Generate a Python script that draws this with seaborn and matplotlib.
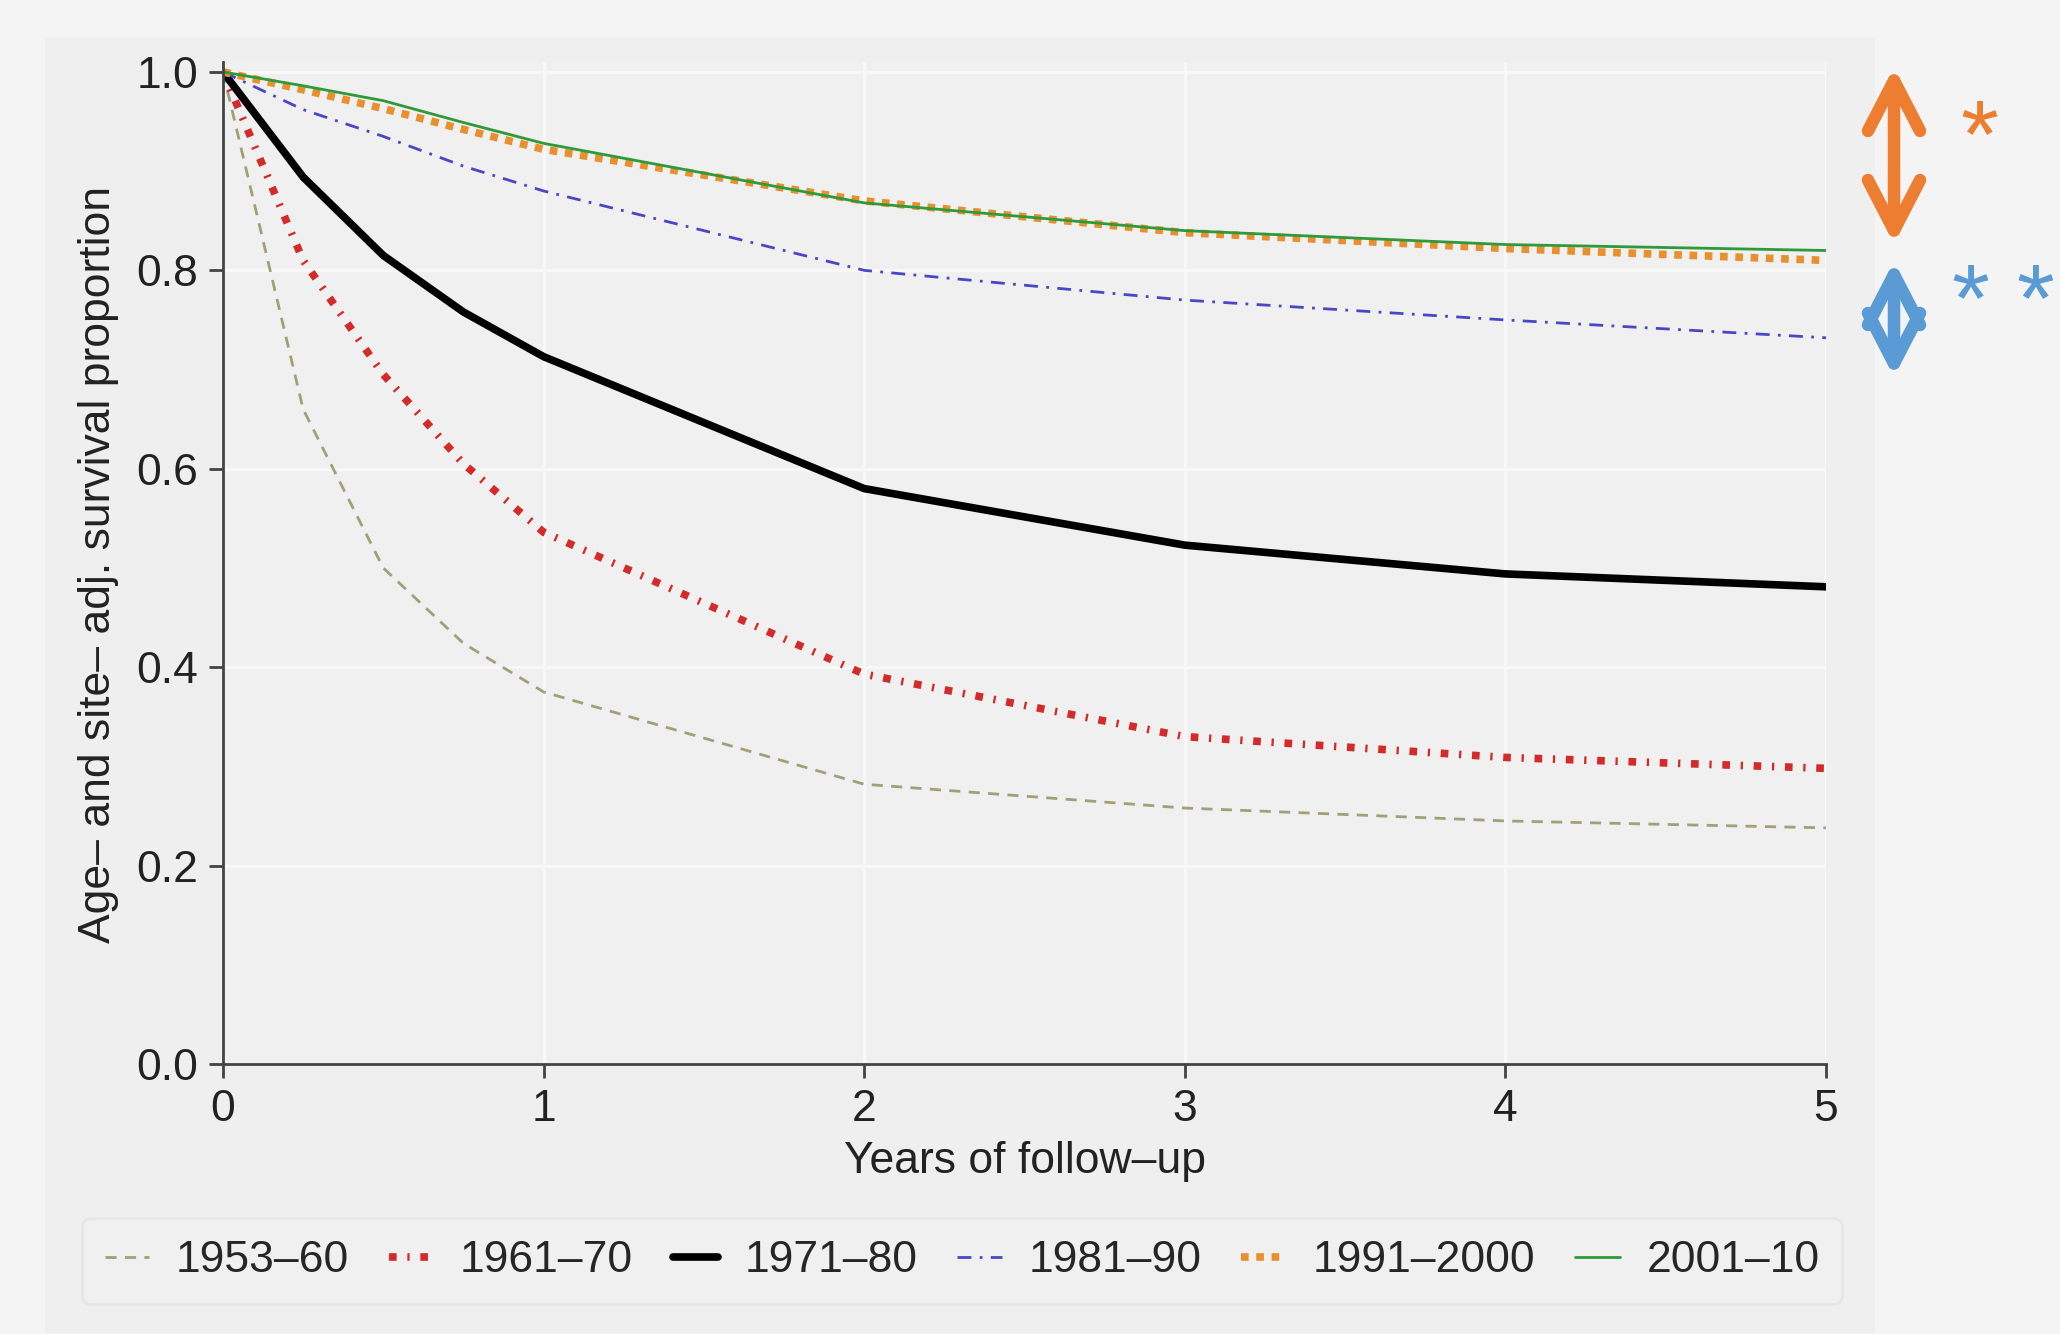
import numpy as np
import pandas as pd
import matplotlib
matplotlib.use("Agg")
import matplotlib.pyplot as plt
import seaborn as sns
from matplotlib.patches import FancyArrowPatch

# follow-up time points (years)
years = [0, 0.25, 0.5, 0.75, 1, 2, 3, 4, 5]

# survival proportions per period
s_1953_60 = [1.0, 0.66, 0.50, 0.424, 0.375, 0.282, 0.258, 0.245, 0.238]
s_1961_70 = [1.0, 0.81, 0.695, 0.605, 0.536, 0.393, 0.33, 0.309, 0.298]
s_1971_80 = [1.0, 0.894, 0.815, 0.758, 0.713, 0.58, 0.523, 0.494, 0.481]
s_1981_90 = [1.0, 0.962, 0.935, 0.905, 0.88, 0.80, 0.77, 0.75, 0.732]
s_1991_2000 = [1.0, 0.982, 0.963, 0.942, 0.922, 0.87, 0.838, 0.822, 0.81]
s_2001_10 = [1.0, 0.986, 0.971, 0.949, 0.928, 0.868, 0.84, 0.826, 0.82]

periods = ["1953–60", "1961–70", "1971–80", "1981–90", "1991–2000", "2001–10"]
series = [s_1953_60, s_1961_70, s_1971_80, s_1981_90, s_1991_2000, s_2001_10]

styles = {
    "1953–60": dict(color="#a39f78", lw=2.0, ls=(0, (4, 3))),
    "1961–70": dict(color="#d42a2a", lw=5.5, ls=(0, (1, 1.4, 0.3, 1.4))),
    "1971–80": dict(color="#000000", lw=5.5, ls="-"),
    "1981–90": dict(color="#4a47c4", lw=2.0, ls=(0, (5, 3, 1, 3))),
    "1991–2000": dict(color="#e8902e", lw=5.5, ls=(0, (1, 1))),
    "2001–10": dict(color="#2f9a3a", lw=2.0, ls="-"),
}

sns.set_style("white")
plt.rcParams["font.family"] = ["Liberation Sans", "DejaVu Sans"]

fig = plt.figure(figsize=(20.6, 13.34), dpi=100)
fig.patch.set_facecolor("#f4f4f4")

# slightly darker inner panel behind everything
panel = plt.Rectangle((45 / 2060, 0), (1875 - 45) / 2060, 1 - 38 / 1334,
                      transform=fig.transFigure, facecolor="#efefef",
                      edgecolor="none", zorder=-10)
fig.patches.append(panel)

ax = fig.add_axes([223 / 2060, 1 - 1064 / 1334, (1826 - 223) / 2060, (1064 - 62) / 1334])
ax.set_facecolor("#f0f0f0")
ax.set_zorder(1)

for name, vals in zip(periods, series):
    st = styles[name]
    df = pd.DataFrame({"year": years, "surv": vals})
    sns.lineplot(data=df, x="year", y="surv", ax=ax, color=st["color"],
                 linewidth=st["lw"], linestyle=st["ls"], label=name,
                 dash_capstyle="butt", legend=False)

ax.set_xlim(0, 5)
ax.set_ylim(0, 1.0 + 0.01)
ax.set_xticks([0, 1, 2, 3, 4, 5])
ax.set_yticks([0, 0.2, 0.4, 0.6, 0.8, 1.0])
ax.set_yticklabels(["0.0", "0.2", "0.4", "0.6", "0.8", "1.0"])
ax.set_xlabel("")
ax.set_ylabel("")
ax.grid(True, color="#f8f8f8", linewidth=2.5)
ax.set_axisbelow(True)
for side in ["top", "right"]:
    ax.spines[side].set_visible(False)
for side in ["left", "bottom"]:
    ax.spines[side].set_color("#444444")
    ax.spines[side].set_linewidth(2)
ax.tick_params(axis="both", direction="out", length=10, width=2, color="#444444",
               labelsize=32, labelcolor="#222222", pad=8, left=True, bottom=True)

fig.text(1025 / 2060, 1 - 1162 / 1334, "Years of follow–up", ha="center", va="center",
         fontsize=32, color="#222222")
fig.text(99 / 2060, 1 - 565 / 1334, "Age– and site– adj. survival proportion",
         ha="center", va="center", rotation=90, fontsize=32, color="#222222")

handles, labels = ax.get_legend_handles_labels()
leg = fig.legend(handles, labels, loc="center", bbox_to_anchor=(962 / 2060, 1 - 1261 / 1334),
                 ncol=6, fontsize=32, frameon=True, handlelength=1.0, handletextpad=0.6,
                 columnspacing=0.9, borderpad=0.5)
leg.get_frame().set_facecolor("#f1f1f1")
leg.get_frame().set_edgecolor("#e4e4e4")
leg.get_frame().set_linewidth(2)

# significance arrows on the right
orange = "#ed7d31"
blue = "#5b9bd5"
for (y0, y1, col) in [(67, 244, orange), (261, 377, blue)]:
    arr = FancyArrowPatch((1894 / 2060, 1 - y0 / 1334), (1894 / 2060, 1 - y1 / 1334),
                          transform=fig.transFigure,
                          arrowstyle="<->,head_length=1.45,head_width=0.75",
                          color=col, linewidth=9, mutation_scale=25, capstyle="round",
                          joinstyle="round", shrinkA=0, shrinkB=0)
    fig.patches.append(arr)

fig.text(1979 / 2060, 1 - 142 / 1334, "*", ha="center", va="center", fontsize=70,
         color=orange)
fig.text(2003 / 2060, 1 - 307 / 1334, "* *", ha="center", va="center", fontsize=70,
         color=blue)

fig.savefig("out.png", dpi=100, facecolor=fig.get_facecolor())
